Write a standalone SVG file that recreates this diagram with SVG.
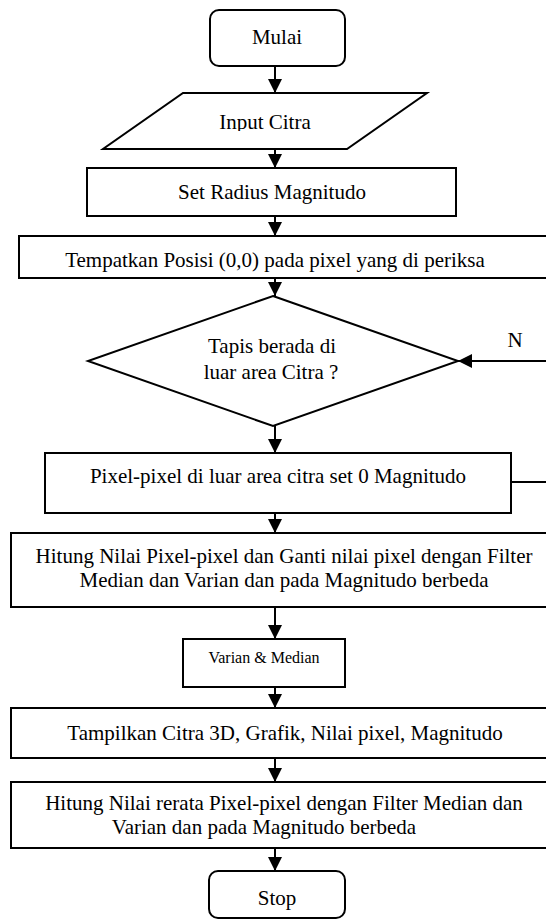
<svg xmlns="http://www.w3.org/2000/svg" width="546" height="920" viewBox="0 0 546 920" font-family="'Liberation Serif', 'Times New Roman', Times, serif">
<style>
.s{fill:#fff;stroke:#000;stroke-width:2}
.t{font-family:'Liberation Serif','Times New Roman',Times,serif;font-size:21px;fill:#000;text-anchor:middle}
.sm{font-size:16px}
.c{stroke:#000;stroke-width:2;fill:none}
</style>
<defs>
<marker id="ah" viewBox="0 0 14 14" refX="14" refY="7" markerWidth="14" markerHeight="14" orient="auto" markerUnits="userSpaceOnUse">
<path d="M0,0 L14,7 L0,14 z" fill="#000"/>
</marker>
<clipPath id="c1"><rect x="0" y="90" width="546" height="41"/></clipPath>
<clipPath id="c2"><rect x="0" y="236" width="546" height="40"/></clipPath>
<clipPath id="c3"><rect x="0" y="782" width="546" height="62"/></clipPath>
</defs>
<rect width="546" height="920" fill="#fff"/>
<g id="n-mulai"><rect class="s" x="210" y="10" width="135" height="56" rx="9"/><text class="t" x="277" y="44">Mulai</text></g>
<g id="n-input"><polygon class="s" points="183,93 427,93 347,149 103,149"/><text class="t" x="265" y="129" clip-path="url(#c1)">Input Citra</text></g>
<g id="n-radius"><rect class="s" x="87" y="168" width="369" height="48"/><text class="t" x="272" y="199">Set Radius Magnitudo</text></g>
<g id="n-posisi"><rect class="s" x="19" y="236" width="540" height="42"/><text class="t" x="275" y="267" clip-path="url(#c2)">Tempatkan Posisi (0,0) pada pixel yang di periksa</text></g>
<g id="n-tapis"><polygon class="s" points="273,296 458,361 273,426 88,361"/><text class="t" x="272" y="353">Tapis berada di</text><text class="t" x="271" y="379">luar area Citra ?</text></g>
<g id="n-luar"><rect class="s" x="45" y="453" width="466" height="60"/><text class="t" x="278" y="483">Pixel-pixel di luar area citra set 0 Magnitudo</text></g>
<g id="n-hitung"><rect class="s" x="11" y="533" width="548" height="74"/><text class="t" x="284" y="563">Hitung Nilai Pixel-pixel dan Ganti nilai pixel dengan Filter</text><text class="t" x="284" y="587">Median dan Varian dan pada Magnitudo berbeda</text></g>
<g id="n-varian"><rect class="s" x="183" y="639" width="162" height="48"/><text class="t sm" x="264" y="663">Varian &amp; Median</text></g>
<g id="n-tampil"><rect class="s" x="11" y="708" width="548" height="50"/><text class="t" x="285" y="740">Tampilkan Citra 3D, Grafik, Nilai pixel, Magnitudo</text></g>
<g id="n-rerata"><rect class="s" x="11" y="782" width="548" height="66"/><text class="t" x="284" y="810">Hitung Nilai rerata Pixel-pixel dengan Filter Median dan</text><text class="t" x="264" y="834" clip-path="url(#c3)">Varian dan pada Magnitudo berbeda</text></g>
<g id="n-stop"><rect class="s" x="209" y="871" width="136" height="47" rx="9"/><text class="t" x="277" y="905">Stop</text></g>
<g id="connectors">
<line class="c" x1="275" y1="66" x2="275" y2="93" marker-end="url(#ah)"/>
<line class="c" x1="275" y1="149" x2="275" y2="168" marker-end="url(#ah)"/>
<line class="c" x1="275" y1="216" x2="275" y2="236" marker-end="url(#ah)"/>
<line class="c" x1="275" y1="278" x2="275" y2="296" marker-end="url(#ah)"/>
<line class="c" x1="275" y1="426" x2="275" y2="453" marker-end="url(#ah)"/>
<line class="c" x1="275" y1="513" x2="275" y2="533" marker-end="url(#ah)"/>
<line class="c" x1="275" y1="607" x2="275" y2="639" marker-end="url(#ah)"/>
<line class="c" x1="275" y1="687" x2="275" y2="708" marker-end="url(#ah)"/>
<line class="c" x1="275" y1="758" x2="275" y2="782" marker-end="url(#ah)"/>
<line class="c" x1="275" y1="848" x2="275" y2="871" marker-end="url(#ah)"/>
<line class="c" x1="548" y1="361" x2="458" y2="361" marker-end="url(#ah)"/>
<line class="c" x1="511" y1="482" x2="548" y2="482"/>
<text class="t" x="515" y="347">N</text>
</g>
</svg>
